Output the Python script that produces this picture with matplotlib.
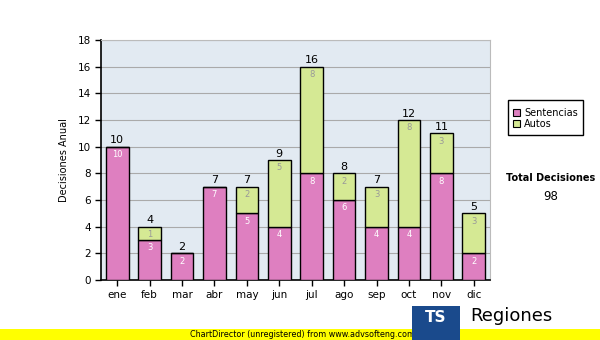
import matplotlib
matplotlib.use("Agg")
import matplotlib.pyplot as plt
import numpy as np
from matplotlib.patches import Rectangle

months = ["ene", "feb", "mar", "abr", "may", "jun", "jul", "ago", "sep", "oct", "nov", "dic"]
sentencias = [10, 3, 2, 7, 5, 4, 8, 6, 4, 4, 8, 2]
autos = [0, 1, 0, 0, 2, 5, 8, 2, 3, 8, 3, 3]
total_label = "98"

pink = "#de7fc0"
green = "#d5e994"

fig = plt.figure(figsize=(6, 3.4), dpi=100)
ax = fig.add_axes([101/600, 1-280/340, 389/600, 240/340])
ax.set_facecolor("#e2eaf2")

x = np.arange(len(months))
w = 0.7
s = np.array(sentencias)
a = np.array(autos)
ax.bar(x, s, width=w, color=pink, edgecolor="black", linewidth=1, zorder=3)
ax.bar(x, a, bottom=s, width=w, color=green, edgecolor="black", linewidth=1, zorder=3)

for i in range(len(months)):
    tot = s[i] + a[i]
    ax.text(x[i], tot + 0.1, str(tot), ha="center", va="bottom", fontsize=8, color="black", zorder=4)
    if s[i] > 0:
        ax.text(x[i], s[i] - 0.25, str(s[i]), ha="center", va="top", fontsize=6, color="white", zorder=4)
    if a[i] > 0:
        ax.text(x[i], s[i] + a[i] - 0.25, str(a[i]), ha="center", va="top", fontsize=6, color="#999999", zorder=4)

ax.set_xlim(-0.5, len(months) - 0.5)
ax.set_ylim(0, 18)
ax.set_yticks(range(0, 19, 2))
ax.set_xticks(x)
ax.set_xticklabels(months)
ax.tick_params(axis="both", labelsize=7.5, direction="out", length=4, width=1)
ax.yaxis.grid(True, color="#aaaaaa", linewidth=0.8, zorder=1)
ax.set_axisbelow(True)
for sp in ["top", "right"]:
    ax.spines[sp].set_color("#bbbbbb")
    ax.spines[sp].set_linewidth(0.8)
for sp in ["left", "bottom"]:
    ax.spines[sp].set_linewidth(1.2)
ax.set_ylabel("Decisiones Anual", fontsize=7, labelpad=6)

# legend
lg_ax = fig.add_axes([0, 0, 1, 1], facecolor="none")
lg_ax.set_xlim(0, 600)
lg_ax.set_ylim(340, 0)
lg_ax.axis("off")
lg_ax.add_patch(Rectangle((508, 100), 75, 35, facecolor="white", edgecolor="black", linewidth=1))
lg_ax.add_patch(Rectangle((513, 109), 7, 7, facecolor=pink, edgecolor="black", linewidth=0.8))
lg_ax.add_patch(Rectangle((513, 120), 7, 7, facecolor=green, edgecolor="black", linewidth=0.8))
lg_ax.text(524, 113, "Sentencias", fontsize=7, va="center", ha="left")
lg_ax.text(524, 124, "Autos", fontsize=7, va="center", ha="left")
lg_ax.text(551, 178, "Total Decisiones", fontsize=7, fontweight="bold", ha="center", va="center")
lg_ax.text(551, 196, total_label, fontsize=8.5, ha="center", va="center")

# footer
lg_ax.add_patch(Rectangle((0, 329), 600, 11, facecolor="#ffff00", edgecolor="none"))
lg_ax.text(190, 334.5, "ChartDirector (unregistered) from www.advsofteng.com", fontsize=5.8,
           ha="left", va="center", color="black")

# logo
lg_ax.add_patch(Rectangle((412, 306), 48, 34, facecolor="#1a4a8c", edgecolor="none", zorder=5))
lg_ax.text(436, 317, "TS", fontsize=11, fontweight="bold", color="white", ha="center", va="center", zorder=6)
lg_ax.text(470, 316, "Regiones", fontsize=13, ha="left", va="center", color="black")

fig.savefig("out.png", dpi=100)
